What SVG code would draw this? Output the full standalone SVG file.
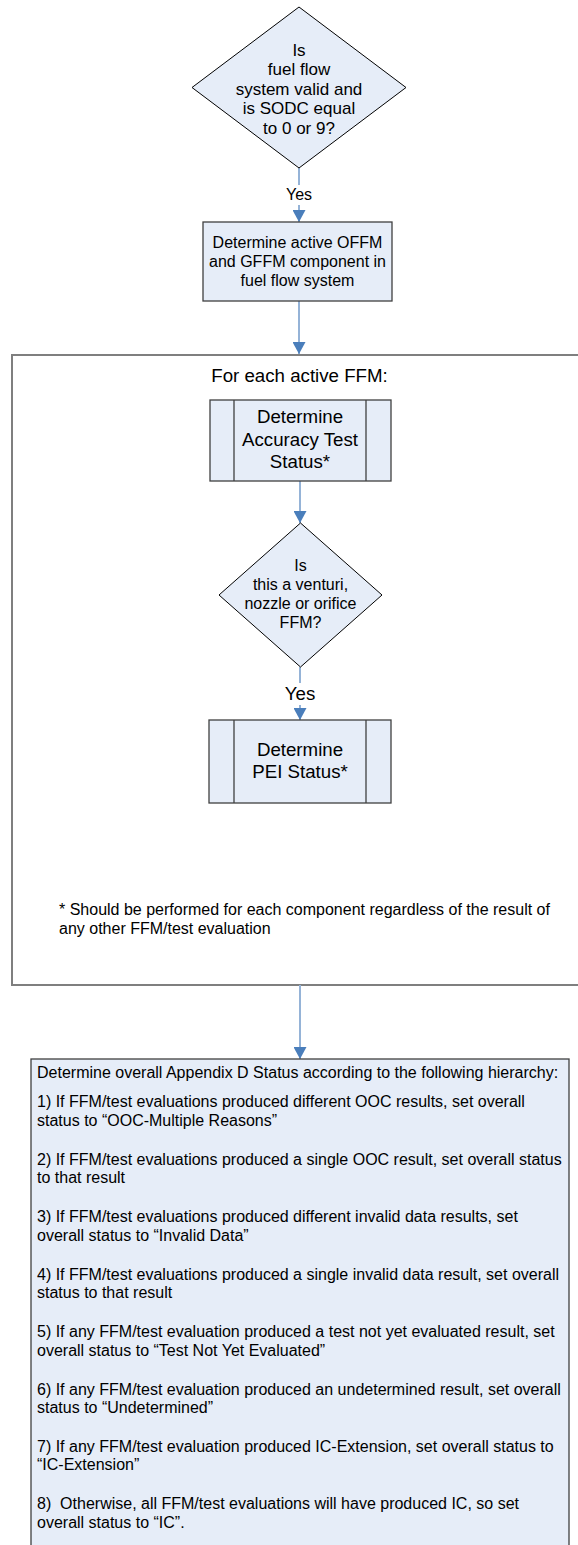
<svg xmlns="http://www.w3.org/2000/svg" width="578" height="1545" viewBox="0 0 578 1545">
<defs>
<style>
.t{font-family:"Liberation Sans",Arial,sans-serif;fill:#000;}
.c{text-anchor:middle;}
.s16{font-size:16px;}
.s17{font-size:17px;}
.s19{font-size:18.7px;}
.node{fill:#E6EDF8;stroke:#404040;stroke-width:1.3;}
.dia{fill:#E6EDF8;stroke:#000;stroke-width:1;}
.edge{stroke:#95B3D7;stroke-width:2;fill:none;}
.frame{fill:none;stroke:#7F7F7F;stroke-width:2;}
</style>
<marker id="arr" viewBox="0 0 12 13" refX="12" refY="6.5" markerWidth="12" markerHeight="13" markerUnits="userSpaceOnUse" orient="auto">
<path d="M0,0 L12,6.5 L0,13 Z" fill="#4A7EBB"/>
</marker>
</defs>
<rect width="578" height="1545" fill="#fff"/>

<g id="container">
<rect class="frame" x="12" y="355" width="600" height="630"/>
<text class="t c s19" x="299.5" y="382">For each active FFM:</text>
<text class="t s16" x="59" y="915">* Should be performed for each component regardless of the result of</text>
<text class="t s16" x="59" y="934">any other FFM/test evaluation</text>
</g>

<g id="connectors">
<line class="edge" x1="299" y1="168" x2="299" y2="222" marker-end="url(#arr)"/>
<rect x="284" y="185" width="30" height="20" fill="#fff"/>
<text class="t c s16" x="299" y="200">Yes</text>
<line class="edge" x1="299" y1="301" x2="299" y2="354" marker-end="url(#arr)"/>
<line class="edge" x1="300" y1="481" x2="300" y2="523" marker-end="url(#arr)"/>
<line class="edge" x1="300" y1="667" x2="300" y2="720" marker-end="url(#arr)"/>
<rect x="282" y="683" width="37" height="22" fill="#fff"/>
<text class="t c s19" x="300" y="700">Yes</text>
<line class="edge" x1="300" y1="985" x2="300" y2="1059" marker-end="url(#arr)"/>
</g>

<g id="decision1">
<polygon class="dia" points="299,7 406,87.5 299,168 192,87.5"/>
<text class="t c s17" x="299" y="55.5">Is</text>
<text class="t c s17" x="299" y="75">fuel flow</text>
<text class="t c s17" x="299" y="94.6">system valid and</text>
<text class="t c s17" x="299" y="114.2">is SODC equal</text>
<text class="t c s17" x="299" y="133.8">to 0 or 9?</text>
</g>

<g id="determine-active">
<rect class="node" x="203" y="222" width="189" height="79"/>
<text class="t c s16" x="297.5" y="248">Determine active OFFM</text>
<text class="t c s16" x="297.5" y="267">and GFFM component in</text>
<text class="t c s16" x="297.5" y="285.5">fuel flow system</text>
</g>

<g id="accuracy-test">
<rect class="node" x="210" y="400" width="181" height="81"/>
<line class="node" x1="234" y1="400" x2="234" y2="481"/>
<line class="node" x1="366" y1="400" x2="366" y2="481"/>
<text class="t c s19" x="300" y="423">Determine</text>
<text class="t c s19" x="300" y="446">Accuracy Test</text>
<text class="t c s19" x="300" y="468">Status*</text>
</g>

<g id="decision2">
<polygon class="dia" points="300.5,523 382,595 300.5,667 219,595"/>
<text class="t c s16" x="300.5" y="571">Is</text>
<text class="t c s16" x="300.5" y="590">this a venturi,</text>
<text class="t c s16" x="300.5" y="609">nozzle or orifice</text>
<text class="t c s16" x="300.5" y="628">FFM?</text>
</g>

<g id="pei-status">
<rect class="node" x="209" y="720" width="182" height="83"/>
<line class="node" x1="234" y1="720" x2="234" y2="803"/>
<line class="node" x1="366" y1="720" x2="366" y2="803"/>
<text class="t c s19" x="300" y="756">Determine</text>
<text class="t c s19" x="300" y="778">PEI Status*</text>
</g>

<g id="overall-status">
<rect class="node" x="31" y="1059" width="538" height="520"/>
<text class="t s16" x="37" y="1078">Determine overall Appendix D Status according to the following hierarchy:</text>
<text class="t s16" x="37" y="1107">1) If FFM/test evaluations produced different OOC results, set overall</text>
<text class="t s16" x="37" y="1125.5">status to “OOC-Multiple Reasons”</text>
<text class="t s16" x="37" y="1164.9">2) If FFM/test evaluations produced a single OOC result, set overall status</text>
<text class="t s16" x="37" y="1183.4">to that result</text>
<text class="t s16" x="37" y="1222.3">3) If FFM/test evaluations produced different invalid data results, set</text>
<text class="t s16" x="37" y="1240.8">overall status to “Invalid Data”</text>
<text class="t s16" x="37" y="1279.7">4) If FFM/test evaluations produced a single invalid data result, set overall</text>
<text class="t s16" x="37" y="1298.2">status to that result</text>
<text class="t s16" x="37" y="1337.1">5) If any FFM/test evaluation produced a test not yet evaluated result, set</text>
<text class="t s16" x="37" y="1355.6">overall status to “Test Not Yet Evaluated”</text>
<text class="t s16" x="37" y="1394.5">6) If any FFM/test evaluation produced an undetermined result, set overall</text>
<text class="t s16" x="37" y="1413">status to “Undetermined”</text>
<text class="t s16" x="37" y="1451.9">7) If any FFM/test evaluation produced IC-Extension, set overall status to</text>
<text class="t s16" x="37" y="1470.4">“IC-Extension”</text>
<text class="t s16" x="37" y="1509.3">8)&#160; Otherwise, all FFM/test evaluations will have produced IC, so set</text>
<text class="t s16" x="37" y="1527.8">overall status to “IC”.</text>
</g>
</svg>
